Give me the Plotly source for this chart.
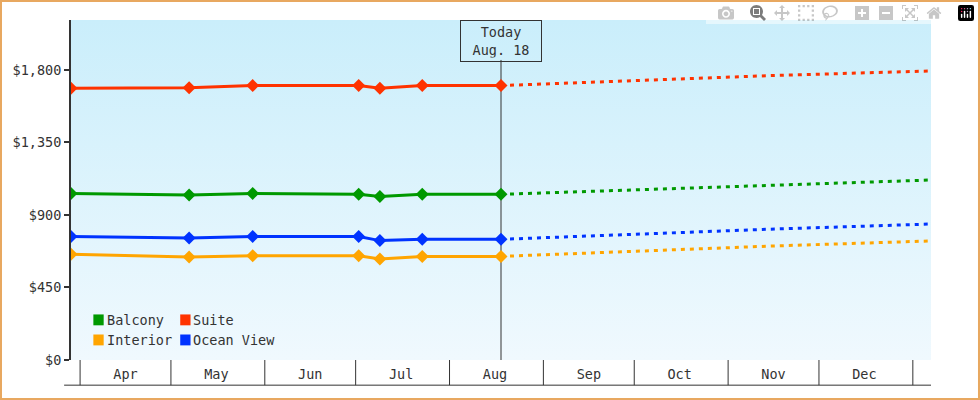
import plotly.graph_objects as go

# observed fares (solid) and forecast (dotted)
obs_dates = ["2024-03-29", "2024-05-07", "2024-05-28", "2024-07-02", "2024-07-09", "2024-07-23", "2024-08-18"]
balcony = [1034, 1024, 1034, 1028, 1014, 1028, 1028]
suite = [1686, 1690, 1703, 1703, 1686, 1703, 1703]
ocean_view = [767, 757, 767, 767, 741, 749, 749]
interior = [656, 639, 647, 647, 627, 643, 643]

fc_dates = ["2024-08-18", "2024-09-30", "2024-11-15", "2025-01-07"]
balcony_fc = [1028, 1055, 1085, 1117]
suite_fc = [1703, 1735, 1765, 1794]
ocean_view_fc = [749, 780, 812, 844]
interior_fc = [643, 675, 707, 739]

month_edges = ["2024-04-01", "2024-05-01", "2024-06-01", "2024-07-01", "2024-08-01",
               "2024-09-01", "2024-10-01", "2024-11-01", "2024-12-01", "2025-01-01"]
month_mids = ["2024-04-16", "2024-05-16", "2024-06-16", "2024-07-16", "2024-08-16",
              "2024-09-16", "2024-10-16", "2024-11-16", "2024-12-16"]
month_labels = ["Apr", "May", "Jun", "Jul", "Aug", "Sep", "Oct", "Nov", "Dec"]

y_ticks = [0, 450, 900, 1350, 1800]
x_range = ["2024-03-29", "2025-01-07"]
y_top = 2110
today = "2024-08-18"

FONT = "DejaVu Sans Mono"
series = [
    ("Balcony", balcony, balcony_fc, "#009900"),
    ("Suite", suite, suite_fc, "#ff3300"),
    ("Ocean View", ocean_view, ocean_view_fc, "#0033ff"),
    ("Interior", interior, interior_fc, "#ffa500"),
]

fig = go.Figure()

# gradient background of the plot area
fig.add_trace(go.Scatter(
    x=x_range, y=[y_top, y_top], mode="lines", line=dict(width=0),
    fill="tozeroy",
    fillgradient=dict(type="vertical", colorscale=[[0, "#f0f9fe"], [1, "#caeefb"]]),
    hoverinfo="skip", showlegend=False))

# today line
fig.add_trace(go.Scatter(x=[today, today], y=[0, 1862], mode="lines",
                         line=dict(color="#333333", width=1), showlegend=False, hoverinfo="skip"))

for name, obs, fc, color in series:
    fig.add_trace(go.Scatter(x=fc_dates, y=fc, mode="lines",
                             line=dict(color=color, width=3, dash="4px,5px"), showlegend=False))
    fig.add_trace(go.Scatter(x=obs_dates, y=obs, mode="lines+markers", name=name,
                             line=dict(color=color, width=3),
                             marker=dict(symbol="diamond", size=10, color=color),
                             showlegend=False))

shapes = []
# month divider boxes below the axis
for d in month_edges:
    shapes.append(dict(type="line", xref="x", yref="paper", x0=d, x1=d, y0=0, y1=-0.074,
                       line=dict(color="#333333", width=1)))
shapes.append(dict(type="line", xref="paper", yref="paper", x0=-0.008, x1=1, y0=-0.074, y1=-0.074,
                   line=dict(color="#333333", width=1)))
# figure border
shapes.append(dict(type="rect", xref="paper", yref="paper", x0=-0.0814, x1=1.0558, y0=-0.1150, y1=1.0562,
                   line=dict(color="#e8a860", width=2)))

# manual legend
legend_items = [("Balcony", "#009900", 0.026, 0.118), ("Suite", "#ff3300", 0.127, 0.118),
                ("Interior", "#ffa500", 0.026, 0.059), ("Ocean View", "#0033ff", 0.127, 0.059)]
annotations = []
for label, color, lx, ly in legend_items:
    shapes.append(dict(type="rect", xref="paper", yref="paper", x0=lx, x1=lx + 0.012,
                       y0=ly - 0.016, y1=ly + 0.016, fillcolor=color, line=dict(width=0)))
    annotations.append(dict(xref="paper", yref="paper", x=lx + 0.013, y=ly, text=label,
                            showarrow=False, xanchor="left", yanchor="middle",
                            font=dict(family=FONT, size=13.5, color="#333333")))

annotations.append(dict(x=today, xref="x", yref="paper", y=1.0, yanchor="top",
                        text="Today<br>Aug. 18", showarrow=False, bgcolor="rgba(0,0,0,0)",
                        bordercolor="#333333", borderwidth=1, borderpad=3, width=74,
                        font=dict(family=FONT, size=13.5, color="#333333")))

fig.update_layout(
    width=980, height=400,
    margin=dict(l=71, r=49, t=20, b=40),
    paper_bgcolor="white", plot_bgcolor="white",
    font=dict(family=FONT, size=13.5, color="#333333"),
    shapes=shapes, annotations=annotations,
    xaxis=dict(range=x_range, tickvals=month_mids, ticktext=month_labels, ticks="",
               showgrid=False, zeroline=False, showline=False, ticklabelstandoff=4),
    yaxis=dict(range=[0, y_top], tickvals=y_ticks,
               ticktext=["$" + format(v, ",") for v in y_ticks],
               ticks="outside", ticklen=5, tickwidth=2, tickcolor="#333333",
               showgrid=False, zeroline=False, showline=True, linewidth=2, linecolor="#333333"),
)

fig.write_html("out.html", post_script="document.body.style.margin='0';")
